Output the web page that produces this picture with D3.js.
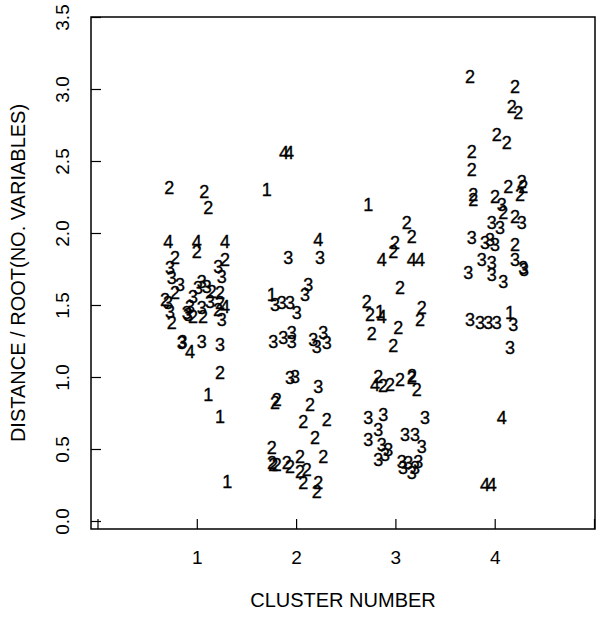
<!DOCTYPE html>
<html>
<head>
<meta charset="utf-8">
<script src="https://cdn.jsdelivr.net/npm/d3@7"></script>
<style>
  body { margin: 0; background: #fff; }
  text { font-family: "Liberation Sans", Arial, sans-serif; fill: #000; }
</style>
</head>
<body>
<div id="chart"></div>
<script>
'use strict';

// each point: [plot symbol, jittered cluster position, distance / root(no. variables)]
const cluster1 = [
  ["2", 0.723, 2.310], ["2", 1.076, 2.287], ["2", 1.116, 2.172],
  ["4", 0.713, 1.940], ["4", 0.999, 1.940], ["2", 0.999, 1.870], ["4", 1.284, 1.940],
  ["2", 0.780, 1.824], ["2", 1.284, 1.813], ["3", 0.730, 1.755], ["3", 1.217, 1.766],
  ["3", 1.251, 1.697], ["3", 0.747, 1.685], ["3", 0.831, 1.639], ["2", 0.780, 1.583],
  ["3", 1.049, 1.662], ["3", 1.100, 1.627], ["3", 1.012, 1.618], ["2", 1.150, 1.592],
  ["3", 0.962, 1.558], ["2", 1.234, 1.583], ["2", 0.680, 1.535], ["3", 0.710, 1.514],
  ["3", 0.932, 1.488], ["3", 1.049, 1.479], ["3", 1.133, 1.523], ["2", 1.234, 1.514],
  ["4", 1.284, 1.488], ["3", 0.730, 1.453], ["3", 0.898, 1.444], ["2", 0.747, 1.373],
  ["3", 0.911, 1.431], ["2", 0.962, 1.419], ["2", 1.062, 1.419], ["2", 1.213, 1.465],
  ["3", 1.251, 1.396], ["3", 0.848, 1.234], ["3", 0.856, 1.240], ["4", 0.932, 1.176],
  ["3", 1.049, 1.245], ["3", 1.234, 1.222], ["2", 1.234, 1.026], ["1", 1.116, 0.875],
  ["1", 1.234, 0.724], ["1", 1.307, 0.273]
];

const cluster2 = [
  ["4", 1.878, 2.556], ["4", 1.928, 2.556], ["1", 1.704, 2.299], ["4", 2.224, 1.951],
  ["3", 1.921, 1.824], ["3", 2.241, 1.824], ["3", 2.123, 1.639], ["3", 2.090, 1.569],
  ["1", 1.754, 1.569], ["3", 1.788, 1.500], ["3", 1.855, 1.512], ["3", 1.939, 1.512],
  ["3", 2.006, 1.442], ["3", 1.770, 1.245], ["3", 1.871, 1.269], ["3", 1.956, 1.303],
  ["3", 1.956, 1.245], ["3", 2.173, 1.257], ["3", 2.274, 1.303], ["3", 2.308, 1.234],
  ["3", 2.207, 1.210], ["2", 1.805, 0.840], ["2", 1.788, 0.819], ["3", 1.939, 0.991],
  ["3", 1.989, 1.002], ["3", 2.224, 0.933], ["2", 2.140, 0.806], ["2", 2.073, 0.690],
  ["2", 2.308, 0.701], ["2", 2.190, 0.574], ["2", 1.754, 0.505], ["2", 1.770, 0.389],
  ["2", 1.757, 0.403], ["2", 1.805, 0.389], ["2", 1.905, 0.401], ["2", 1.939, 0.377],
  ["2", 2.039, 0.447], ["2", 2.274, 0.447], ["2", 2.039, 0.342], ["2", 2.107, 0.354],
  ["2", 2.073, 0.262], ["2", 2.224, 0.262], ["2", 2.207, 0.203]
];

const cluster3 = [
  ["1", 2.727, 2.194], ["2", 3.114, 2.067], ["2", 3.164, 1.974], ["4", 2.862, 1.813],
  ["2", 2.979, 1.870], ["2", 2.996, 1.931], ["4", 3.164, 1.813], ["4", 3.248, 1.813],
  ["2", 3.046, 1.616], ["2", 2.711, 1.523], ["2", 2.744, 1.431], ["4", 2.862, 1.419],
  ["1", 2.845, 1.451], ["2", 2.761, 1.299], ["2", 3.265, 1.477], ["2", 3.248, 1.396],
  ["2", 3.029, 1.340], ["2", 2.979, 1.215], ["2", 2.828, 1.002], ["4", 2.795, 0.944],
  ["2", 2.875, 0.938], ["2", 2.946, 0.944], ["2", 3.046, 0.979], ["2", 3.164, 0.991],
  ["2", 3.214, 0.910], ["2", 3.167, 1.007], ["3", 2.727, 0.713], ["3", 2.878, 0.736],
  ["3", 2.828, 0.632], ["3", 2.727, 0.563], ["3", 2.862, 0.528], ["3", 2.928, 0.493],
  ["3", 2.828, 0.424], ["3", 2.895, 0.458], ["3", 3.298, 0.713], ["3", 3.097, 0.597],
  ["3", 3.197, 0.597], ["3", 3.265, 0.516], ["3", 3.063, 0.412], ["3", 3.130, 0.401],
  ["3", 3.197, 0.366], ["3", 3.231, 0.412], ["3", 3.164, 0.331], ["3", 3.077, 0.368]
];

const cluster4 = [
  ["2", 3.751, 3.085], ["2", 4.204, 3.016], ["2", 4.171, 2.877], ["2", 4.238, 2.831],
  ["2", 4.020, 2.681], ["2", 4.121, 2.623], ["2", 3.768, 2.565], ["2", 3.768, 2.438],
  ["2", 4.137, 2.322], ["2", 4.272, 2.356], ["2", 4.288, 2.322], ["2", 3.784, 2.264],
  ["2", 3.784, 2.229], ["2", 4.003, 2.252], ["2", 4.255, 2.264], ["3", 4.070, 2.194],
  ["2", 4.087, 2.137], ["2", 4.204, 2.113], ["3", 4.272, 2.067], ["3", 3.970, 2.067],
  ["3", 4.053, 2.033], ["3", 3.768, 1.963], ["3", 3.902, 1.928], ["3", 4.003, 1.917],
  ["2", 4.204, 1.917], ["3", 3.953, 1.951], ["3", 3.869, 1.813], ["3", 3.970, 1.790],
  ["3", 4.204, 1.813], ["3", 4.288, 1.755], ["3", 4.295, 1.743], ["3", 3.734, 1.720],
  ["3", 3.970, 1.708], ["3", 4.087, 1.662], ["3", 3.751, 1.396], ["3", 3.852, 1.373],
  ["3", 3.936, 1.373], ["3", 4.020, 1.373], ["1", 4.154, 1.442], ["3", 4.187, 1.361],
  ["3", 4.154, 1.199], ["4", 4.070, 0.713], ["4", 3.902, 0.250], ["4", 3.970, 0.250]
];

const xTicks = [0, 1, 2, 3, 4, 5];
const xTickLabels = ["", "1", "2", "3", "4", ""];
const yTicks = [0, 0.5, 1, 1.5, 2, 2.5, 3, 3.5];
const xTitle = "CLUSTER NUMBER";
const yTitle = "DISTANCE / ROOT(NO. VARIABLES)";

const W = 606, H = 617;
const frame = { left: 91, right: 595, top: 17, bottom: 529 };

var x = d3.scaleLinear()
    .domain([0, 5])
    .range([97.5, 594]);

var y = d3.scaleLinear()
    .domain([0, 3.5])
    .range([521, 17]);

var svg = d3.select("#chart").append("svg")
    .attr("width", W)
    .attr("height", H);

// box round the plot region
svg.append("rect")
    .attr("x", frame.left)
    .attr("y", frame.top)
    .attr("width", frame.right - frame.left)
    .attr("height", frame.bottom - frame.top)
    .style("fill", "none")
    .style("stroke", "#000")
    .style("stroke-width", "1.5px");

var xAxis = d3.axisBottom(x)
    .tickValues(xTicks)
    .tickSizeInner(-10)
    .tickSizeOuter(0)
    .tickPadding(22)
    .tickFormat((d, i) => xTickLabels[i]);

var gx = svg.append("g")
    .attr("transform", "translate(0," + frame.bottom + ")")
    .call(xAxis);
gx.select(".domain").remove();
gx.selectAll("line").style("stroke", "#000").style("stroke-width", "1.2px");
gx.selectAll("text")
    .style("font-size", "19px")
    .style("font-family", "'Liberation Sans', Arial, sans-serif")
    .attr("fill", "#000");

var yAxis = d3.axisLeft(y)
    .tickValues(yTicks)
    .tickSizeInner(-10)
    .tickSizeOuter(0)
    .tickFormat(d3.format(".1f"));

var gy = svg.append("g")
    .attr("transform", "translate(" + frame.left + ",0)")
    .call(yAxis);
gy.select(".domain").remove();
gy.selectAll("line").style("stroke", "#000").style("stroke-width", "1.2px");
gy.selectAll("text")
    .attr("x", null)
    .attr("dy", null)
    .attr("transform", "translate(-29,0) rotate(-90)")
    .attr("text-anchor", "middle")
    .attr("dominant-baseline", "central")
    .style("font-size", "19px")
    .style("font-family", "'Liberation Sans', Arial, sans-serif")
    .attr("fill", "#000");

svg.append("text")
    .attr("x", (frame.left + frame.right) / 2)
    .attr("y", 600)
    .attr("text-anchor", "middle")
    .attr("dominant-baseline", "central")
    .style("font-size", "20px")
    .text(xTitle);

svg.append("text")
    .attr("transform", "translate(18," + ((frame.top + frame.bottom) / 2) + ") rotate(-90)")
    .attr("text-anchor", "middle")
    .attr("dominant-baseline", "central")
    .style("font-size", "20px")
    .text(yTitle);

// plotted symbols, one group per cluster
var points = cluster1.concat(cluster2, cluster3, cluster4);

svg.append("g")
    .selectAll("text")
    .data(points)
    .join("text")
    .attr("x", d => x(d[1]))
    .attr("y", d => y(d[2]))
    .attr("text-anchor", "middle")
    .attr("dominant-baseline", "central")
    .style("font-size", "18px")
    .style("stroke", "#000")
    .style("stroke-width", "0.35px")
    .text(d => d[0]);
</script>
</body>
</html>
